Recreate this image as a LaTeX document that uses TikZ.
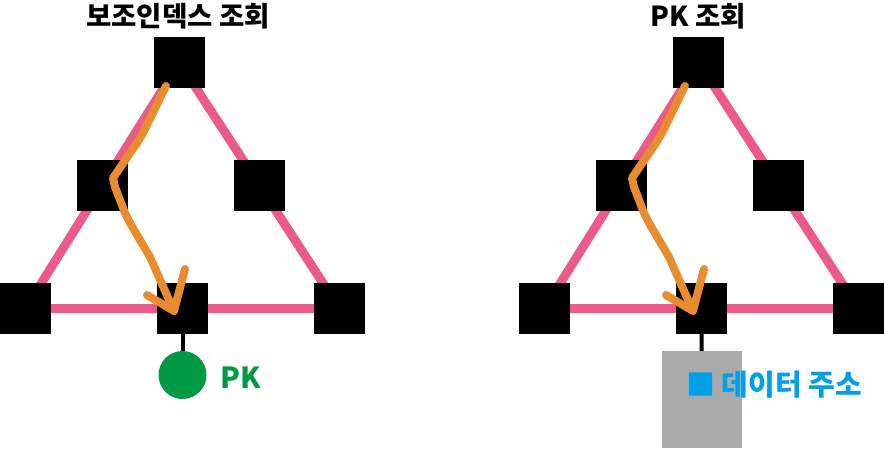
\documentclass[tikz,border=0pt]{standalone}
\usepackage{fontspec}
\setmainfont{Noto Sans CJK KR}
\usepackage{tikz}
\usetikzlibrary{backgrounds}
\definecolor{edgepink}{HTML}{EC5A8A}
\definecolor{pathorange}{HTML}{E88C30}
\definecolor{pkgreen}{HTML}{009A44}
\definecolor{addrblue}{HTML}{00A0E9}
\definecolor{addrgray}{HTML}{AAAAAA}
\tikzset{
  keybox/.style={
    fill=black,
    minimum width=51pt,
    minimum height=51pt,
    inner sep=0pt
  },
  treeedge/.style={draw=edgepink, line width=9pt},
  searchpath/.style={draw=pathorange, line width=8pt, line cap=round, line join=round},
  stemline/.style={draw=black, line width=4pt},
  titletext/.style={font=\fontsize{27.5}{30}\selectfont\bfseries, inner sep=0pt},
  labeltext/.style={font=\fontsize{29}{32}\selectfont\bfseries, inner sep=0pt}
}
\begin{document}
\begin{tikzpicture}[x=1pt,y=-1pt]
  \useasboundingbox (0,0) rectangle (884,448);
  % two trees, same shape
  \foreach \t/\dx in {L/0,R/519}{
    \begin{scope}[xshift=\dx pt]
      \node[keybox] (\t-top) at (179.5,62.5) {};
      \node[keybox] (\t-ml) at (102.5,185.5) {};
      \node[keybox] (\t-mr) at (259.5,185.5) {};
      \node[keybox] (\t-bl) at (25.5,308.5) {};
      \node[keybox] (\t-bm) at (182.5,308.5) {};
      \node[keybox] (\t-br) at (339.5,308.5) {};
      \begin{pgfonlayer}{background}
        \draw[treeedge] (\t-top.center) -- (\t-ml.center) -- (\t-bl.center)
          -- (\t-bm.center) -- (\t-br.center) -- (\t-mr.center) -- (\t-top.center);
      \end{pgfonlayer}
      % search path
      \draw[searchpath] (166,86) -- (143,133) -- (137,143) -- (113,178) -- (115,187)
        -- (125,213) -- (130,223) -- (150,257) -- (174,311);
      \draw[searchpath] (147,295) -- (174,311) -- (185,269);
    \end{scope}
  }
  \node[titletext] (ltitle) at (178,16) {보조인덱스 조회};
  \node[titletext] (rtitle) at (698,16) {PK 조회};
  % leaf contents
  \node[circle, fill=pkgreen, minimum size=48pt, inner sep=0pt] (pk) at (182.5,375) {};
  \draw[stemline] (L-bm) -- (pk);
  \node[labeltext, text=pkgreen, anchor=west] (pklabel) at (220,378) {PK};
  \node[fill=addrgray, minimum width=80pt, minimum height=97pt, inner sep=0pt] (addr) at (702,399.5) {};
  \draw[stemline] (R-bm) -- (addr);
  \node[labeltext, text=addrblue, anchor=west] (addrlabel) at (686,385) {■ 데이터 주소};
\end{tikzpicture}
\end{document}
